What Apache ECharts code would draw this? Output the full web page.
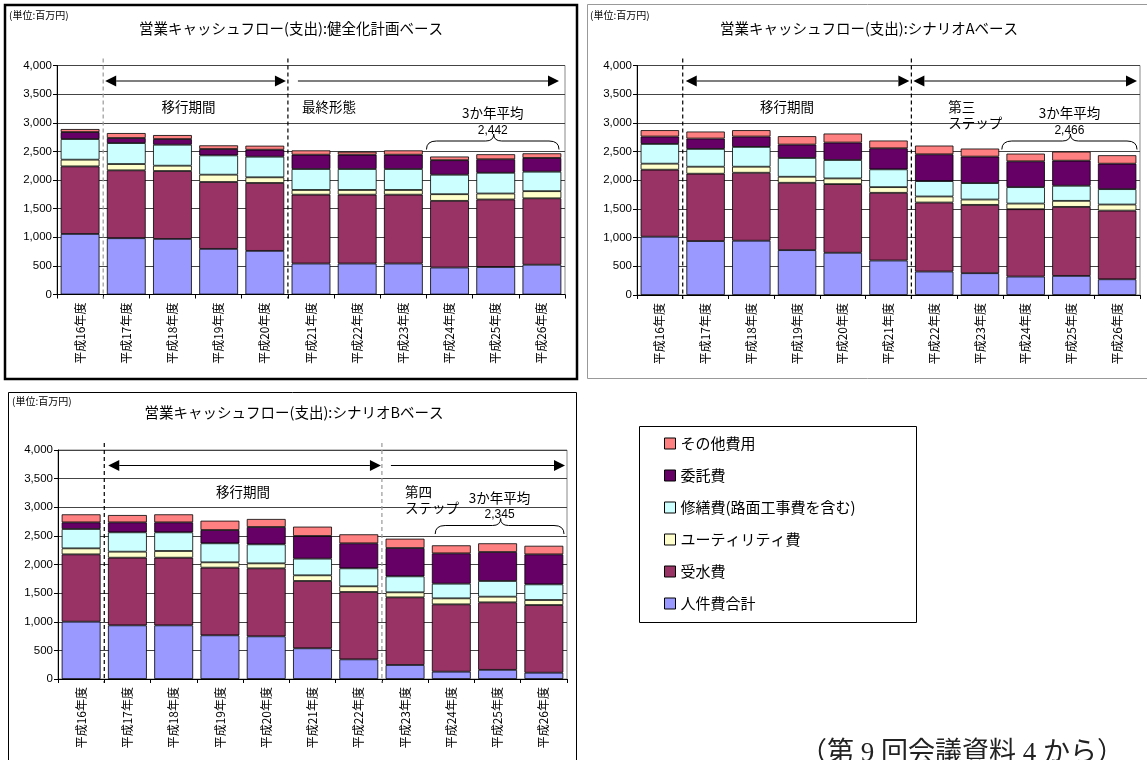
<!DOCTYPE html>
<html><head><meta charset="utf-8">
<script src="https://cdn.jsdelivr.net/npm/echarts@6/dist/echarts.min.js"></script>
<style>html,body{margin:0;padding:0;background:#fff}#c{width:1147px;height:760px}</style>
</head><body><div id="c"></div>
<script>
// ---------------- data ----------------
const categories = ['平成16年度','平成17年度','平成18年度','平成19年度','平成20年度','平成21年度','平成22年度','平成23年度','平成24年度','平成25年度','平成26年度'];
const seriesNames = ['人件費合計','受水費','ユーティリティ費','修繕費(路面工事費を含む)','委託費','その他費用'];
const legendOrder = ['その他費用','委託費','修繕費(路面工事費を含む)','ユーティリティ費','受水費','人件費合計'];
const yTicks = [0, 500, 1000, 1500, 2000, 2500, 3000, 3500, 4000];

// 健全化計画ベース
const planPersonnel   = [1058, 983, 971, 797, 762, 541, 541, 541, 471, 480, 520];
const planWater       = [1180,1186,1186,1168,1186,1203,1203,1203,1165,1180,1160];
const planUtility     = [ 117, 110,  93, 128,  99,  82,  82,  82, 116, 104, 125];
const planRepair      = [ 360, 366, 366, 337, 360, 366, 366, 366, 340, 362, 340];
const planOutsourcing = [ 122,  88,  99, 111, 122, 250, 250, 250, 254, 236, 240];
const planOther       = [  53,  87,  70,  64,  70,  75,  52,  75,  64,  88,  81];

// シナリオAベース
const scenAPersonnel   = [1016, 940, 946, 782, 736, 601, 409, 380, 321, 333, 274];
const scenAWater       = [1168,1174,1185,1174,1197,1180,1203,1191,1174,1203,1197];
const scenAUtility     = [ 105, 122, 105, 105,  99,  99, 105,  93,  99, 105, 106];
const scenARepair      = [ 344, 310, 345, 327, 321, 310, 268, 286, 286, 263, 268];
const scenAOutsourcing = [ 129, 181, 181, 234, 304, 367, 467, 462, 450, 437, 444];
const scenAOther       = [ 111, 122, 111, 146, 157, 135, 152, 140, 134, 158, 147];

// シナリオBベース
const scenBPersonnel   = [1001, 937, 937, 763, 745, 536, 343, 245, 128, 160, 110];
const scenBWater       = [1176,1182,1182,1182,1188,1176,1177,1181,1176,1179,1182];
const scenBUtility     = [ 105, 105, 117,  93,  87,  99,  99,  88, 105,  99,  88];
const scenBRepair      = [ 338, 338, 326, 332, 332, 291, 314, 279, 256, 274, 273];
const scenBOutsourcing = [ 116, 174, 174, 232, 303, 396, 437, 495, 530, 506, 524];
const scenBOther       = [ 140, 128, 140, 163, 140, 163, 157, 163, 140, 152, 150];

const panelTitles = ['営業キャッシュフロー(支出):健全化計画ベース','営業キャッシュフロー(支出):シナリオAベース','営業キャッシュフロー(支出):シナリオBベース'];
const avgLabels = ['2,442','2,466','2,345'];
const phase1Label = '移行期間';
const phase2Labels = ['最終形態','第三\nステップ','第四\nステップ'];
const avgTitle = '3か年平均';
const unitLabel = '(単位:百万円)';
const footerText = '（第 9 回会議資料 4 から）';

const panelData = [
  [planPersonnel, planWater, planUtility, planRepair, planOutsourcing, planOther],
  [scenAPersonnel, scenAWater, scenAUtility, scenARepair, scenAOutsourcing, scenAOther],
  [scenBPersonnel, scenBWater, scenBUtility, scenBRepair, scenBOutsourcing, scenBOther]
];

// ---------------- style / layout ----------------
const colors = ['#9999FF','#993366','#FFFFCC','#CCFFFF','#660066','#FF8080'];
const JP = "'Noto Sans CJK JP', sans-serif";
const NUM = "'Liberation Sans', Arial, sans-serif";
const grids = [
  {left: 57,  top: 65.5, width: 508, height: 229},
  {left: 637, top: 65.5, width: 503, height: 229.5},
  {left: 58,  top: 450,  width: 509, height: 229}
];

const chart = echarts.init(document.getElementById('c'), null, {renderer: 'canvas'});

const xAxes = [], yAxes = [], series = [];
grids.forEach((g, p) => {
  xAxes.push({
    type: 'category', gridIndex: p, data: categories,
    axisLine: {show: true, lineStyle: {color: '#000', width: 1}},
    axisTick: {show: true, interval: 0, length: 4, lineStyle: {color: '#000'}},
    axisLabel: {interval: 0, rotate: 90, fontSize: 12, fontFamily: JP, color: '#000', margin: 8},
    splitLine: {show: false}
  });
  yAxes.push({
    type: 'value', gridIndex: p, min: yTicks[0], max: yTicks[yTicks.length - 1], interval: yTicks[1] - yTicks[0],
    axisLine: {show: true, lineStyle: {color: '#000', width: 1}},
    axisTick: {show: true, length: 4, lineStyle: {color: '#000'}},
    axisLabel: {fontSize: 11.5, fontFamily: NUM, color: '#000', margin: 5},
    splitLine: {show: true, lineStyle: {color: '#444', width: 1}}
  });
  panelData[p].forEach((arr, s) => {
    series.push({
      type: 'bar', name: seriesNames[s], xAxisIndex: p, yAxisIndex: p, stack: 'p' + p,
      data: arr, barCategoryGap: '16%',
      itemStyle: {color: colors[s], borderColor: '#000', borderWidth: 0.8},
      emphasis: {disabled: true}, silent: true
    });
  });
});

chart.setOption({
  animation: false,
  backgroundColor: '#fff',
  grid: grids.map(g => Object.assign({show: true, borderColor: '#888', borderWidth: 1, backgroundColor: '#fff', containLabel: false, outerBoundsMode: 'none'}, g)),
  xAxis: xAxes,
  yAxis: yAxes,
  legend: {
    orient: 'vertical', left: 664, top: 436, padding: 0,
    data: legendOrder, icon: 'rect', itemWidth: 11, itemHeight: 11, itemGap: 17,
    selectedMode: false,
    itemStyle: {borderColor: '#000', borderWidth: 1},
    textStyle: {fontSize: 15, fontFamily: JP, color: '#000', lineHeight: 15}
  },
  series: series
});

// ---------------- annotations (positioned via axes) ----------------
const g = [];
function txt(x, y, text, size, opts) {
  g.push({type: 'text', x: x, y: y, z: 100, silent: true,
    style: Object.assign({text: text, fontSize: size, fontFamily: JP, fill: '#000', align: 'center', verticalAlign: 'middle'}, opts || {})});
}
function line(x1, y1, x2, y2, stroke, dash, w) {
  g.push({type: 'line', z: 100, silent: true, shape: {x1, y1, x2, y2},
    style: {stroke: stroke, lineWidth: w || 1, lineDash: dash || null}});
}
function arrow(x1, x2, y, leftHead, rightHead) {
  const L = 11, H = 5.5;
  line(leftHead ? x1 + L : x1, y, rightHead ? x2 - L : x2, y, '#000', null, 1.2);
  if (leftHead) g.push({type: 'polygon', z: 100, silent: true, shape: {points: [[x1, y], [x1 + L, y - H], [x1 + L, y + H]]}, style: {fill: '#000'}});
  if (rightHead) g.push({type: 'polygon', z: 100, silent: true, shape: {points: [[x2, y], [x2 - L, y - H], [x2 - L, y + H]]}, style: {fill: '#000'}});
}
function bez(x1, y1, cx, cy, x2, y2) {
  g.push({type: 'bezierCurve', z: 100, silent: true, shape: {x1, y1, cpx1: cx, cpy1: cy, x2, y2}, style: {stroke: '#000', lineWidth: 1, fill: null}});
}
function brace(x0, x1, yEnd, yLine, yPeak) {
  const xc = (x0 + x1) / 2 + 1;
  bez(x0, yEnd, x0, yLine, x0 + 10, yLine);
  line(x0 + 10, yLine, xc - 8, yLine, '#000', null, 1);
  bez(xc - 8, yLine, xc, yLine, xc, yPeak);
  bez(xc, yPeak, xc, yLine, xc + 8, yLine);
  line(xc + 8, yLine, x1 - 10, yLine, '#000', null, 1);
  bez(x1 - 10, yLine, x1, yLine, x1, yEnd);
}

const panelAnno = [
  {div: [[1, '#999'], [5, '#000']], a1: [2, -2], a2: [10, -6, false], lab1Shift: -7, lab2: 14, brace: [8, 0, -6]},
  {div: [[1, '#000'], [6, '#000']], a1: [3, -2], a2: [2, -3, true],   lab1Shift: -10, lab2: 37, brace: [8, -1, -3]},
  {div: [[1, '#000'], [7, '#999']], a1: [4, -1], a2: [9, -2, false], lab1Shift: 0, lab2: 23, brace: [8, 7, -3]}
];

grids.forEach((gr, p) => {
  const cx = i => chart.convertToPixel({xAxisIndex: p}, i);
  const cy = v => chart.convertToPixel({yAxisIndex: p}, v);
  const half = (cx(1) - cx(0)) / 2;
  const b = k => (k <= 0 ? cx(0) - half : (k >= categories.length ? cx(categories.length - 1) + half : (cx(k - 1) + cx(k)) / 2));
  const yTop = cy(yTicks[yTicks.length - 1]);
  const yZero = cy(0);
  const A = panelAnno[p];
  const d1 = b(A.div[0][0]), d2 = b(A.div[1][0]);
  line(d1, yTop - 7, d1, yZero + 4, A.div[0][1], [4, 3], 1.2);
  line(d2, yTop - 7, d2, yZero + 4, A.div[1][1], [4, 3], 1.2);
  const ya = yTop + 15.5;
  arrow(d1 + A.a1[0], d2 + A.a1[1], ya, true, true);
  arrow(d2 + A.a2[0], b(categories.length) + A.a2[1], ya, A.a2[2], true);
  txt((d1 + d2) / 2 + A.lab1Shift, yTop + 41.5, phase1Label, 13.5);
  txt(d2 + A.lab2, yTop + (p === 0 ? 41.5 : 49.5), phase2Labels[p], 13.5, {align: 'left', lineHeight: 16});
  const bx0 = b(A.brace[0]) + A.brace[1], bx1 = b(categories.length) + A.brace[2];
  const bc = (bx0 + bx1) / 2;
  txt(bc, yTop + 47.5, avgTitle, 13.5);
  txt(bc, yTop + 65, avgLabels[p], 12, {fontFamily: NUM});
  brace(bx0, bx1, yTop + 84, yTop + 75.5, yTop + 68.5);
});

// frames, titles, unit labels, legend box, footer
g.push({type: 'rect', z: 90, silent: true, shape: {x: 5, y: 5, width: 572, height: 374}, style: {fill: null, stroke: '#000', lineWidth: 2.5}});
g.push({type: 'rect', z: 90, silent: true, shape: {x: 587.5, y: 4.5, width: 560, height: 374}, style: {fill: null, stroke: '#999', lineWidth: 1}});
g.push({type: 'rect', z: 90, silent: true, shape: {x: 8.5, y: 392.5, width: 568, height: 380}, style: {fill: null, stroke: '#000', lineWidth: 1}});
g.push({type: 'rect', z: 90, silent: true, shape: {x: 639.5, y: 426.5, width: 277, height: 196}, style: {fill: null, stroke: '#000', lineWidth: 1}});
txt(291, 28, panelTitles[0], 14.5);
txt(869, 28, panelTitles[1], 14.5);
txt(294, 412, panelTitles[2], 14.5);
txt(9, 15, unitLabel, 10, {align: 'left'});
txt(590, 15, unitLabel, 10, {align: 'left'});
txt(12, 401, unitLabel, 10, {align: 'left'});
txt(800, 740, footerText, 27, {align: 'left', verticalAlign: 'top', fontFamily: "'Liberation Serif', 'DejaVu Serif', 'Noto Sans CJK JP', serif", fill: '#222'});

chart.setOption({graphic: {elements: g}});
</script>
</body></html>
